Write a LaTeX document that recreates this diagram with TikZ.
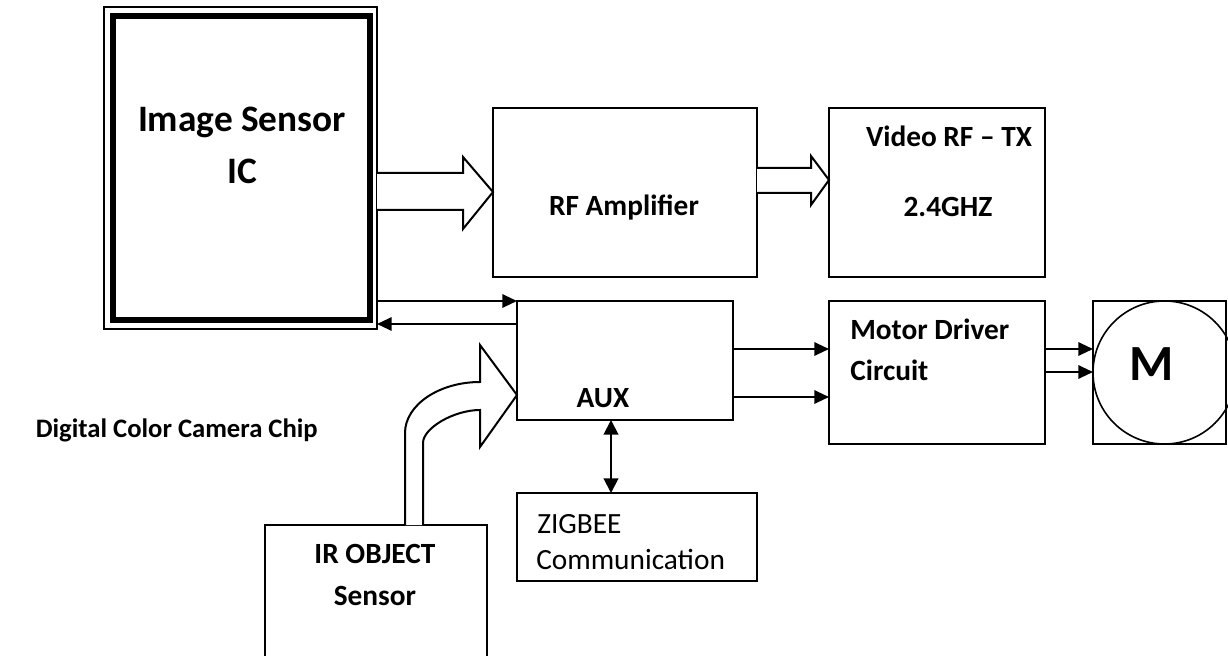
\documentclass[tikz,border=0pt]{standalone}
\usepackage{fontspec}
\setmainfont{Carlito}
\usetikzlibrary{arrows.meta}
\tikzset{
  blk/.style={draw, line width=1.5pt, inner sep=0pt, outer sep=0pt, anchor=north west},
  sz/.style 2 args={minimum width=#1*0.75pt, minimum height=#2*0.75pt},
  lbl/.style={font=\fontsize{22}{26}\selectfont\bfseries, inner sep=0pt, anchor=base},
  sig/.style={line width=1.5pt, -{Triangle[length=11pt, width=10pt]}},
  hollow/.style={draw, line width=1.5pt, miter limit=20, fill=white},
}
\begin{document}
\begin{tikzpicture}[x=0.75pt, y=-0.75pt]
\clip (0,0) rectangle (1228,656);
\fill[white] (0,0) rectangle (1228,656);
% blocks
\node[blk, sz={273}{322}] (sensor) at (104,7) {};
\draw[line width=4pt] ([shift={(9,9)}]sensor.north west) rectangle ([shift={(-7,-9)}]sensor.south east);
\node[blk, sz={264}{169}] (rfamp) at (493,108) {};
\node[blk, sz={216}{169}] (vtx) at (829,108) {};
\node[blk, sz={216}{119}] (aux) at (517,301) {};
\node[blk, sz={216}{143}] (mdrv) at (829,301) {};
\node[blk, sz={133}{143}] (motor) at (1093,301) {};
\node[draw, line width=1.2pt, circle, minimum size=143*0.75pt, inner sep=0pt, outer sep=0pt] (coil) at (1164.5,372.5) {};
\node[blk, sz={240}{88}] (zigbee) at (517,493) {};
\node[blk, sz={222}{160}] (irs) at (265,525) {};

% labels
\node[lbl, font=\fontsize{28}{32}\selectfont\bfseries] (lsensor) at (242,131.7) {Image Sensor};
\node[lbl, font=\fontsize{28}{32}\selectfont\bfseries] (lic) at (242,184) {IC};
\node[lbl] (lrf) at (624,215) {RF Amplifier};
\node[lbl] (lvtx) at (949,147) {Video RF -- TX};
\node[lbl] (lghz) at (948,217) {2.4GHZ};
\node[lbl] (laux) at (603,407) {AUX};
\node[lbl, anchor=base west] (lmd) at (850,339) {Motor Driver};
\node[lbl, anchor=base west] (lcir) at (850,380) {Circuit};
\node[lbl, font=\fontsize{38}{42}\selectfont\bfseries] (lm) at (1152,380) {M};
\node[lbl, font=\fontsize{22}{26}\selectfont, anchor=base west] (lzig) at (537,533) {ZIGBEE};
\node[lbl, font=\fontsize{22}{26}\selectfont, anchor=base west] (lcom) at (536,569) {Communication};
\node[lbl] (lir) at (375,563) {IR OBJECT};
\node[lbl] (lirs) at (375,605) {Sensor};
\node[lbl, font=\fontsize{20}{24}\selectfont\bfseries, anchor=base east] (lchip) at (318,437) {Digital Color Camera Chip};

% wide arrows
\draw[hollow] (sensor.east |- 0,173) -- (463,173) -- (463,157) -- (rfamp.west |- 0,192)
  -- (463,229) -- (463,210) -- (sensor.east |- 0,210);
\draw[hollow] (rfamp.east |- 0,168) -- (811,168) -- (811,156) -- (vtx.west |- 0,180)
  -- (811,205) -- (811,193) -- (rfamp.east |- 0,193);
\draw[hollow] (irs.north -| 405,0) -- (405,433) .. controls (405,405) and (439,382) .. (480,382)
  -- (480,345) -- (aux.west |- 0,395) -- (480,447) -- (480,410)
  .. controls (454,410) and (423,428) .. (423,443) -- (irs.north -| 423,0);

% signal lines
\draw[sig] (sensor.east |- aux.north) -- (aux.north west);
\draw[sig] (aux.west |- 0,324) -- (sensor.east |- 0,324);
\draw[sig] (aux.east |- 0,349) -- (mdrv.west |- 0,349);
\draw[sig] (aux.east |- 0,397) -- (mdrv.west |- 0,397);
\draw[sig] (mdrv.east |- 0,349) -- (coil.west |- 0,349);
\draw[sig] (mdrv.east |- 0,372) -- (coil.west |- 0,372);
\draw[sig, {Triangle[length=11pt, width=11pt]}-{Triangle[length=11pt, width=11pt]}] (aux.south -| 611,0) -- (zigbee.north -| 611,0);
\end{tikzpicture}
\end{document}
